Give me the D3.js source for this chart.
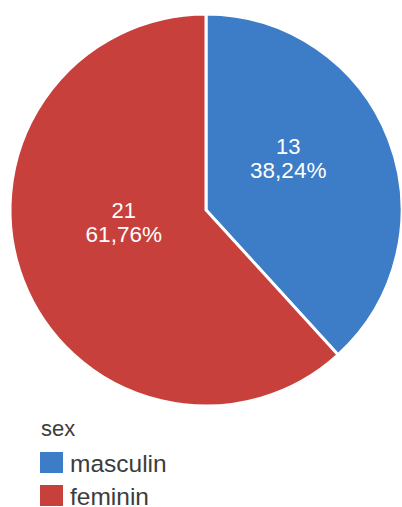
<!DOCTYPE html>
<html>
<head>
<meta charset="utf-8">
<script src="https://cdn.jsdelivr.net/npm/d3@7"></script>
<style>
  html, body { margin: 0; padding: 0; background: #fff; }
  svg { display: block; font-family: "Liberation Sans", Arial, Helvetica, sans-serif; }
</style>
</head>
<body>
<svg id="chart" width="402" height="507"></svg>
<script>
// ---- data ----
const categories = ["masculin", "feminin"];
const counts = [13, 21];
const percentLabels = ["38,24%", "61,76%"];
const legendTitle = "sex";
const colors = ["#3d7cc6", "#c8403c"];

// ---- layout ----
const W = 402, H = 507;
const cx = 206, cy = 210, radius = 196;

const svg = d3.select("#chart");
const color = d3.scaleOrdinal().domain(categories).range(colors);

const data = categories.map((c, i) => ({ cat: c, value: counts[i], pct: percentLabels[i] }));
const pie = d3.pie().sort(null).value(d => d.value);
const arcs = pie(data);

const arc = d3.arc().innerRadius(0).outerRadius(radius);
const labelArc = d3.arc().innerRadius(radius * 0.45).outerRadius(radius * 0.45);

const g = svg.append("g").attr("transform", `translate(${cx},${cy})`);

g.selectAll("path.slice")
  .data(arcs)
  .enter().append("path")
  .attr("class", "slice")
  .attr("d", arc)
  .attr("fill", d => color(d.data.cat))
  .attr("stroke", "#fff")
  .attr("stroke-width", 3)
  .attr("stroke-linejoin", "miter");

const lineGap = 24;
const labels = g.selectAll("g.lbl")
  .data(arcs)
  .enter().append("g")
  .attr("class", "lbl")
  .attr("transform", d => { const c = labelArc.centroid(d); return `translate(${c[0]},${c[1]})`; });

labels.append("text")
  .attr("x", 0).attr("y", -lineGap)
  .attr("text-anchor", "middle")
  .attr("fill", "#ffffff")
  .style("font-size", "22px")
  .text(d => d.data.value);
labels.append("text")
  .attr("x", 0).attr("y", 0)
  .attr("text-anchor", "middle")
  .attr("fill", "#ffffff")
  .style("font-size", "22.5px")
  .text(d => d.data.pct);

// ---- legend ----
const legend = svg.append("g").attr("transform", "translate(40,436)");
legend.append("text")
  .attr("x", 1).attr("y", 0)
  .attr("fill", "#3c3c3c")
  .style("font-size", "22px")
  .text(legendTitle);

const rowH = 33;
const items = legend.selectAll("g.item")
  .data(categories)
  .enter().append("g")
  .attr("class", "item")
  .attr("transform", (d, i) => `translate(0,${16 + i * rowH})`);

items.append("rect")
  .attr("width", 23).attr("height", 21)
  .attr("fill", d => color(d));

items.append("text")
  .attr("x", 30).attr("y", 20)
  .attr("fill", "#3c3c3c")
  .style("font-size", "24.5px")
  .text(d => d);
</script>
</body>
</html>
